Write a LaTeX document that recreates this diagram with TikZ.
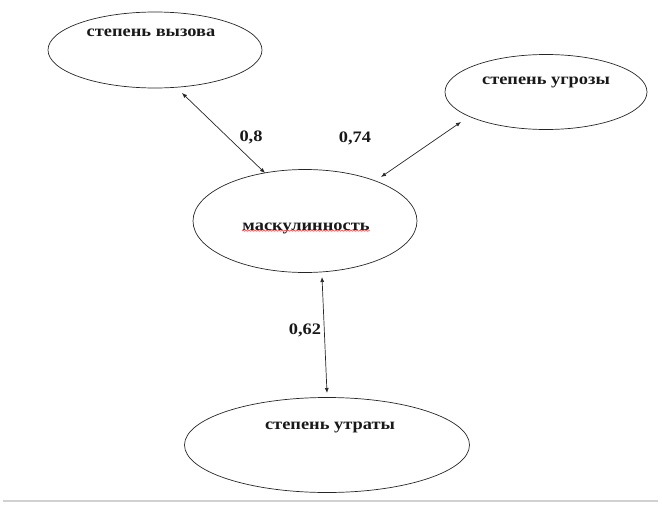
\documentclass[tikz,border=0pt]{standalone}
\usepackage{fontspec}
\setmainfont{Liberation Serif}
\usetikzlibrary{arrows.meta,decorations.pathmorphing,shapes.geometric}
\newcommand{\wtxt}[1]{\scalebox{1.15}[1]{#1}}
\begin{document}
\begin{tikzpicture}[x=1pt,y=-1pt,
  oval/.style={draw=black!85, line width=0.7pt, ellipse, inner sep=0pt},
  lbl/.style={font=\bfseries\fontsize{16}{18}\selectfont, inner sep=0pt, text=black!90},
  link/.style={draw=black!85, line width=0.7pt, {Latex[length=5pt,width=4pt]}-{Latex[length=5pt,width=4pt]}}]
\useasboundingbox (0,0) rectangle (662,506);
% ellipses
\node[oval, minimum width=214pt, minimum height=76pt] (e1) at (155,50) {};
\node[oval, minimum width=202pt, minimum height=75pt] (e2) at (546,92) {};
\node[oval, minimum width=224pt, minimum height=103pt] (e3) at (305,221) {};
\node[oval, minimum width=285pt, minimum height=95pt] (e4) at (327,445) {};
% texts
\node[lbl] (t1) at (151,33) {\wtxt{степень вызова}};
\node[lbl] (t2) at (546,82) {\wtxt{степень угрозы}};
\node[lbl] (t3) at (306,228) {\wtxt{маскулинность}};
\node[lbl] (t4) at (330,427) {\wtxt{степень утраты}};
% spell-check underline
\coordinate (u1) at ([yshift=3pt]t3.south west);
\coordinate (u2) at ([yshift=3pt]t3.south east);
\draw[red!80, line width=0.5pt, decorate, decoration={snake, amplitude=0.6pt, segment length=3pt}] (u1) -- (u2);
% connectors
\coordinate (a1) at (182,93);
\coordinate (b1) at (265,173);
\coordinate (a2) at (461,122);
\coordinate (b2) at (381,177);
\coordinate (a3) at (322,277);
\coordinate (b3) at (327,393);
\draw[link] (a1) -- (b1);
\draw[link] (a2) -- (b2);
\draw[link] (a3) -- (b3);
% weights
\node[lbl] (w1) at (251,137) {\wtxt{0,8}};
\node[lbl] (w2) at (355,138) {\wtxt{0,74}};
\node[lbl] (w3) at (305,330) {\wtxt{0,62}};
% bottom rule
\coordinate (r1) at (3,501);
\coordinate (r2) at (658,501);
\draw[black!18, line width=2pt] (r1) -- (r2);
\end{tikzpicture}
\end{document}
